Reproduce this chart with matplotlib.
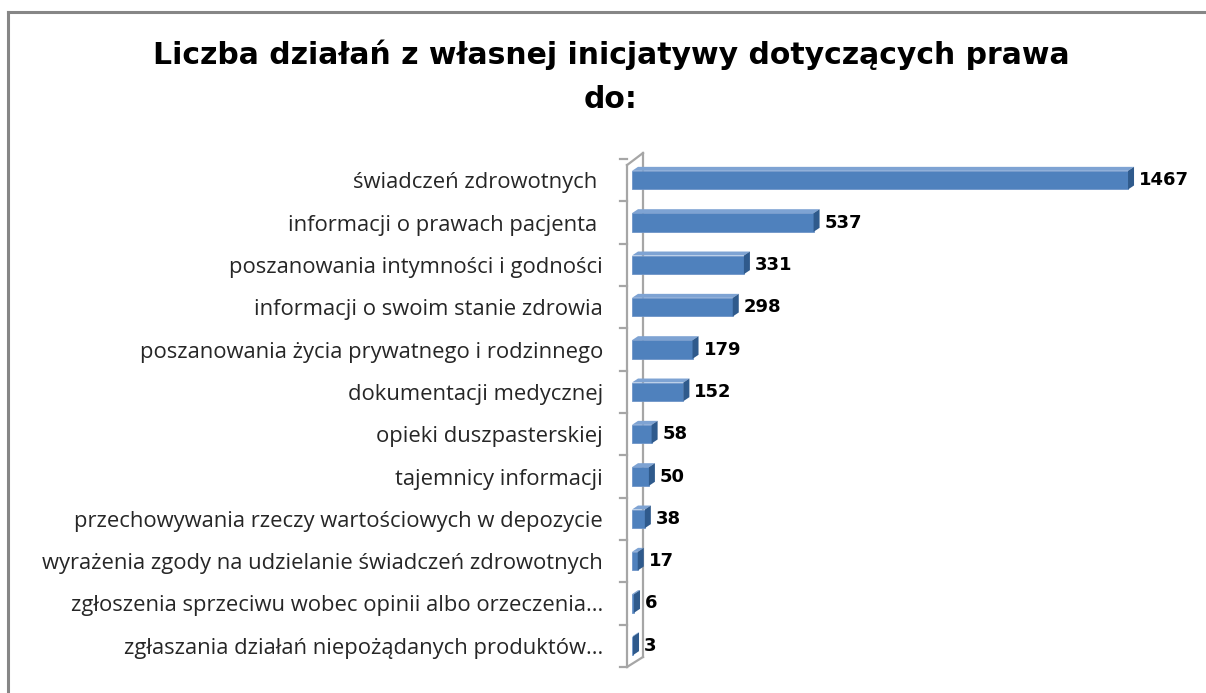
import matplotlib
matplotlib.use("Agg")
import matplotlib.pyplot as plt
from matplotlib.patches import Polygon
from matplotlib.lines import Line2D

categories = [
    "świadczeń zdrowotnych ",
    "informacji o prawach pacjenta ",
    "poszanowania intymności i godności",
    "informacji o swoim stanie zdrowia",
    "poszanowania życia prywatnego i rodzinnego",
    "dokumentacji medycznej",
    "opieki duszpasterskiej",
    "tajemnicy informacji",
    "przechowywania rzeczy wartościowych w depozycie",
    "wyrażenia zgody na udzielanie świadczeń zdrowotnych",
    "zgłoszenia sprzeciwu wobec opinii albo orzeczenia...",
    "zgłaszania działań niepożądanych produktów...",
]
values = [1467, 537, 331, 298, 179, 152, 58, 50, 38, 17, 6, 3]
title = "Liczba działań z własnej inicjatywy dotyczących prawa\ndo:"

plt.rcParams['font.family'] = ['Open Sans', 'DejaVu Sans']

W, H = 1206, 693
fig = plt.figure(figsize=(W / 100, H / 100), dpi=100)

# frame (top and left borders)
fig.add_artist(Line2D([8 / W, 8 / W], [0, 1 - 12 / H], transform=fig.transFigure, color="#868686", lw=2.2))
fig.add_artist(Line2D([8 / W, 1], [1 - 12 / H, 1 - 12 / H], transform=fig.transFigure, color="#868686", lw=2.2))

ax_l, ax_r = 632, 1173
ax_t, ax_b = 159, 667
ax = fig.add_axes([ax_l / W, 1 - ax_b / H, (ax_r - ax_l) / W, (ax_b - ax_t) / H])
xmax = 1600
ax.set_xlim(0, xmax)
n = len(categories)
ax.set_ylim(n - 0.5, -0.5)

pos = list(range(n))
bh = 0.44
front = "#4F81BD"
topc = "#7EA3D3"
sidec = "#2F5A8C"
ax.barh(pos, values, height=bh, color=front, edgecolor="#6E95C8", linewidth=0.6, zorder=3)

# 3D faces
dx_px, dy_px = 6, 4
pxx = xmax / (ax_r - ax_l)
dx = dx_px * pxx
dy = dy_px * n / (ax_b - ax_t)
for y, v in zip(pos, values):
    top = y - bh / 2
    bot = y + bh / 2
    ax.add_patch(Polygon([[0, top], [dx, top - dy], [v + dx, top - dy], [v, top]],
                         closed=True, facecolor=topc, edgecolor="none", zorder=3, clip_on=False))
    ax.add_patch(Polygon([[v, top], [v + dx, top - dy], [v + dx, bot - dy], [v, bot]],
                         closed=True, facecolor=sidec, edgecolor="none", zorder=3, clip_on=False))
    ax.text(v + dx + 5 * pxx, y, str(v), va="center", ha="left",
            fontsize=13, fontweight="bold", color="black", zorder=4,
            family=["DejaVu Sans"])

for s in ax.spines.values():
    s.set_visible(False)
ax.set_xticks([])
ax.set_yticks(pos)
ax.set_yticklabels(categories, fontsize=15.8, color="#262626")
ax.tick_params(axis="y", length=0, pad=21)

# wall lines
wall = "#A6A6A6"
fx = -5   # front line offset px
bx = 11   # back line offset px
off = 10  # vertical depth px
def px_to_axes(px, py):
    return px / (ax_r - ax_l), py / (ax_b - ax_t)
fxa, _ = px_to_axes(fx, 0)
bxa, _ = px_to_axes(bx, 0)
_, offa = px_to_axes(0, off)
lw = 1.6
ax.add_line(Line2D([fxa, fxa], [0, 1 - 0.012], transform=ax.transAxes, color=wall, lw=lw, clip_on=False))
ax.add_line(Line2D([bxa, bxa], [offa, 1 + offa * 0.6], transform=ax.transAxes, color=wall, lw=lw, clip_on=False))
ax.add_line(Line2D([fxa, bxa], [1 - 0.012, 1 + offa * 0.6], transform=ax.transAxes, color=wall, lw=lw, clip_on=False))
ax.add_line(Line2D([fxa, bxa], [0, offa], transform=ax.transAxes, color=wall, lw=lw, clip_on=False))
tl, _ = px_to_axes(-12, 0)
for k in range(n + 1):
    ya = 1 - k / n
    ax.add_line(Line2D([tl, fxa], [ya, ya], transform=ax.transAxes, color=wall, lw=lw, clip_on=False))

fig.text(611 / W, 1 - 77 / H, title, ha="center", va="center", fontsize=21.5,
         fontweight="bold", color="black", linespacing=1.65, family=["DejaVu Sans"])

fig.savefig("out.png", dpi=100)
